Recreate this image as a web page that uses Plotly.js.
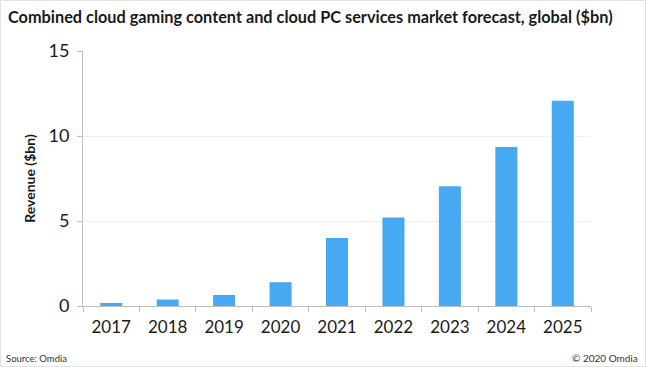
<!DOCTYPE html>
<html>
<head>
<meta charset="utf-8">
<script src="https://cdn.plot.ly/plotly-3.0.1.min.js"></script>
<style>
html,body{margin:0;padding:0;background:#fff;}
#wrap{position:relative;width:646px;height:367px;}
#chart{width:646px;height:367px;}
#frame{position:absolute;left:0;top:0;width:644px;height:365px;border:1px solid #e4e4e4;pointer-events:none;}
</style>
</head>
<body>
<div id="wrap"><div id="chart"></div><div id="frame"></div></div>
<script>
const years = ["2017","2018","2019","2020","2021","2022","2023","2024","2025"];
const revenue = [0.18, 0.38, 0.65, 1.4, 4.0, 5.2, 7.05, 9.35, 12.08];
const yTicks = [0, 5, 10, 15];

const font = "Lato, 'Open Sans', 'Noto Sans', sans-serif";

Plotly.newPlot('chart', [{
  type: 'bar',
  x: years,
  y: revenue,
  marker: {color: '#47A9F2'},
  hoverinfo: 'skip'
}], {
  width: 646, height: 367,
  margin: {l: 83, r: 55, t: 51, b: 61},
  paper_bgcolor: '#fff', plot_bgcolor: '#fff',
  bargap: 0.61,
  showlegend: false,
  title: {
    text: '<b>Combined cloud gaming content and cloud PC services market forecast, global ($bn)</b>',
    font: {family: font, size: 16.3, color: '#1a1a1a'},
    x: 8/646, xanchor: 'left', xref: 'container', y: 0.954, yanchor: 'middle', yref: 'container'
  },
  xaxis: {
    type: 'category',
    tickson: 'boundaries',
    ticks: 'outside', ticklen: 5, tickcolor: '#bfbfbf',
    showline: true, linecolor: '#bfbfbf', linewidth: 1,
    showgrid: false,
    ticklabelstandoff: 6,
    tickfont: {family: font, size: 17, color: '#1a1a1a'},
    fixedrange: true
  },
  yaxis: {
    range: [0, 15],
    tickvals: yTicks,
    ticks: 'outside', ticklen: 5, tickcolor: '#bfbfbf',
    showline: true, linecolor: '#bfbfbf', linewidth: 1,
    showgrid: true, gridcolor: '#f0f0f0',
    zeroline: false,
    ticklabelstandoff: 4,
    tickfont: {family: font, size: 18, color: '#1a1a1a'},
    title: {text: '<b>Revenue ($bn)</b>', font: {family: font, size: 14, color: '#1a1a1a'}, standoff: 9},
    fixedrange: true
  },
  annotations: [
    {text: 'Source: Omdia', xref: 'paper', yref: 'paper', x: -0.156, y: -0.205, xanchor: 'left', yanchor: 'middle', showarrow: false, font: {family: font, size: 9.5, color: '#333'}},
    {text: '© 2020 Omdia', xref: 'paper', yref: 'paper', x: 1.096, y: -0.205, xanchor: 'right', yanchor: 'middle', showarrow: false, font: {family: font, size: 10, color: '#333'}}
  ]
}, {displayModeBar: false, staticPlot: true});
</script>
</body>
</html>
